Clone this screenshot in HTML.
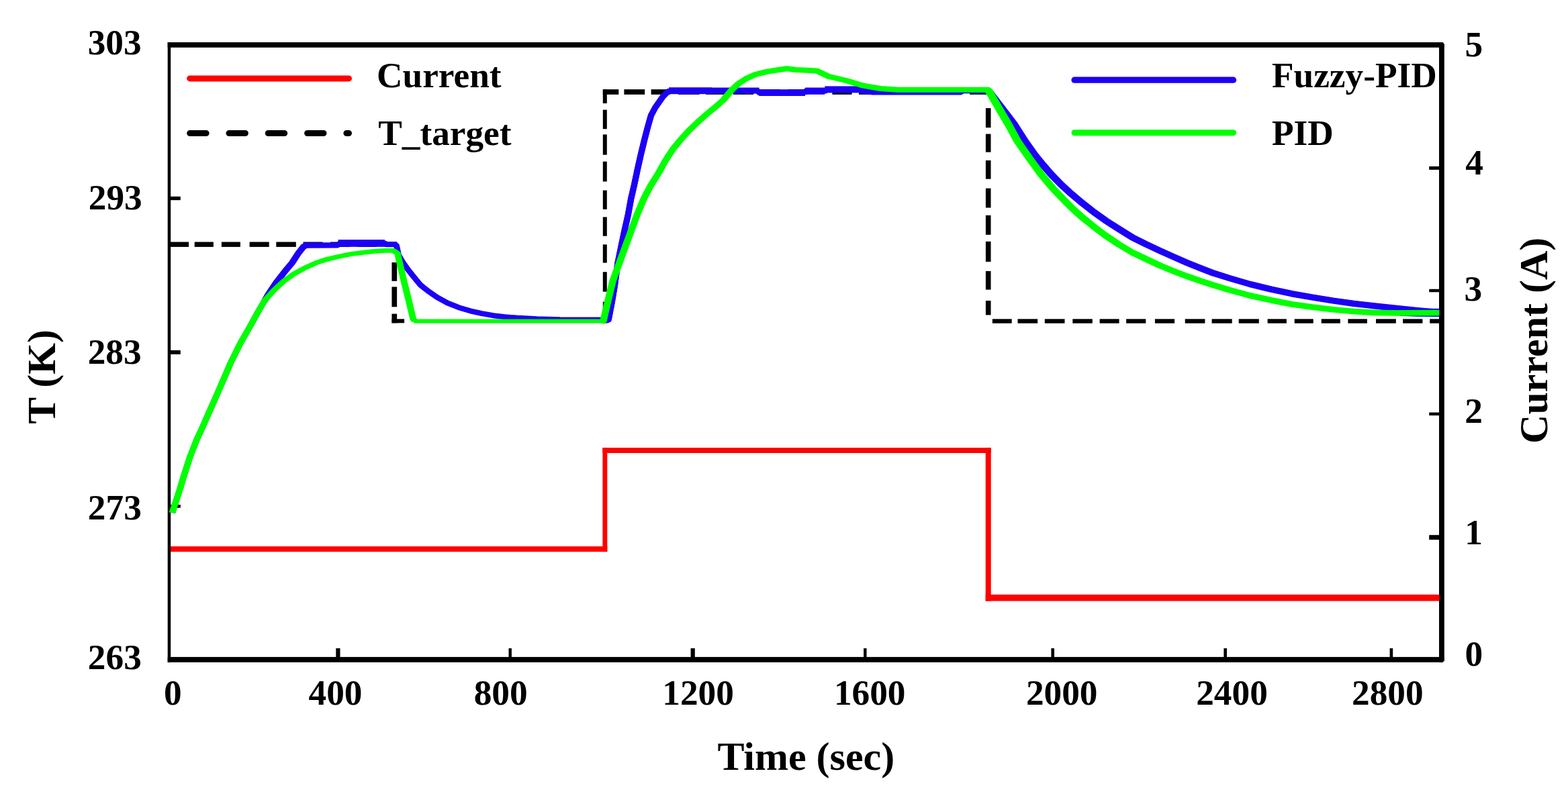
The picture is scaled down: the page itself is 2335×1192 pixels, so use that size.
<!DOCTYPE html>
<html lang="en">
<head>
<meta charset="utf-8">
<title>Fuzzy-PID vs PID temperature control</title>
<style>
  html, body { margin: 0; padding: 0; background: #ffffff; }
  body { width: 2335px; height: 1192px; overflow: hidden; }
  svg { display: block; }
  text { font-family: "Liberation Serif", "Times New Roman", Times, serif; font-weight: bold; }
</style>
</head>
<body>
<svg width="2335" height="1192" viewBox="0 0 2335 1192" role="img" aria-label="Temperature response of Fuzzy-PID and PID control with drive current">
<rect x="0" y="0" width="2335" height="1192" fill="#ffffff"/>
<g id="axes"><rect x="249.70" y="63.00" width="4.50" height="923.80" fill="#000"/><rect x="249.70" y="63.00" width="1899.10" height="7.80" fill="#000"/><rect x="249.70" y="978.90" width="1899.10" height="7.90" fill="#000"/><rect x="2143.00" y="65.90" width="7.80" height="918.60" fill="#000"/><polygon points="2143,63 2148.8,63 2150.8,65.9 2150.8,70.8 2143,70.8" fill="#000"/><polygon points="2143,978.9 2150.8,978.9 2150.8,984.3 2148.6,986.8 2143,986.8" fill="#000"/><rect x="254.00" y="292.80" width="14.80" height="5.40" fill="#000"/><rect x="254.00" y="521.90" width="14.80" height="6.00" fill="#000"/><rect x="254.00" y="752.00" width="14.80" height="4.60" fill="#000"/><rect x="2128.20" y="247.90" width="15.00" height="5.00" fill="#000"/><rect x="2128.20" y="430.75" width="15.00" height="4.50" fill="#000"/><rect x="2128.20" y="614.55" width="15.00" height="4.50" fill="#000"/><rect x="2128.20" y="797.20" width="15.00" height="7.00" fill="#000"/><rect x="500.30" y="965.90" width="6.20" height="13.30" fill="#000"/><rect x="757.50" y="965.90" width="4.40" height="13.30" fill="#000"/><rect x="1028.60" y="965.90" width="6.20" height="13.30" fill="#000"/><rect x="1286.10" y="965.90" width="4.40" height="13.30" fill="#000"/><rect x="1565.40" y="965.90" width="4.60" height="13.30" fill="#000"/><rect x="1822.40" y="965.90" width="4.60" height="13.30" fill="#000"/><rect x="2069.60" y="965.90" width="4.60" height="13.30" fill="#000"/></g>
<g id="ttarget"><rect x="254.00" y="360.50" width="27.10" height="7.40" fill="#000"/><rect x="289.70" y="360.50" width="28.20" height="7.40" fill="#000"/><rect x="329.90" y="360.50" width="28.00" height="7.40" fill="#000"/><rect x="371.60" y="360.50" width="29.10" height="7.40" fill="#000"/><rect x="411.30" y="360.50" width="29.50" height="7.40" fill="#000"/><rect x="451.60" y="360.50" width="28.90" height="7.40" fill="#000"/><rect x="492.00" y="360.50" width="28.80" height="7.40" fill="#000"/><rect x="532.40" y="360.50" width="28.80" height="7.40" fill="#000"/><rect x="572.80" y="360.50" width="18.40" height="7.40" fill="#000"/><rect x="583.45" y="391.00" width="7.70" height="27.80" fill="#000"/><rect x="583.45" y="427.40" width="7.70" height="29.90" fill="#000"/><rect x="583.45" y="467.60" width="7.70" height="13.70" fill="#000"/><rect x="583.50" y="475.30" width="18.60" height="6.00" fill="#000"/><rect x="897.80" y="449.60" width="6.00" height="31.70" fill="#000"/><rect x="897.80" y="405.20" width="6.00" height="29.40" fill="#000"/><rect x="897.80" y="364.30" width="6.00" height="27.30" fill="#000"/><rect x="897.80" y="323.40" width="6.00" height="28.30" fill="#000"/><rect x="897.80" y="283.60" width="6.00" height="28.30" fill="#000"/><rect x="897.80" y="240.70" width="6.00" height="29.80" fill="#000"/><rect x="897.80" y="200.40" width="6.00" height="30.30" fill="#000"/><rect x="897.80" y="163.60" width="6.00" height="28.60" fill="#000"/><rect x="897.80" y="133.10" width="6.00" height="20.90" fill="#000"/><rect x="897.80" y="133.15" width="23.50" height="7.70" fill="#000"/><rect x="929.40" y="133.15" width="30.80" height="7.70" fill="#000"/><rect x="969.60" y="133.15" width="28.40" height="7.70" fill="#000"/><rect x="1010.00" y="133.15" width="31.60" height="7.70" fill="#000"/><rect x="1051.00" y="133.15" width="28.30" height="7.70" fill="#000"/><rect x="1092.00" y="133.15" width="30.10" height="7.70" fill="#000"/><rect x="1132.50" y="133.15" width="29.50" height="7.70" fill="#000"/><rect x="1173.00" y="133.15" width="29.00" height="7.70" fill="#000"/><rect x="1239.40" y="133.15" width="29.10" height="7.70" fill="#000"/><rect x="1279.00" y="133.15" width="29.00" height="7.70" fill="#000"/><rect x="1319.50" y="133.15" width="29.00" height="7.70" fill="#000"/><rect x="1360.00" y="133.15" width="29.00" height="7.70" fill="#000"/><rect x="1400.50" y="133.15" width="30.50" height="7.70" fill="#000"/><rect x="1444.10" y="133.15" width="31.40" height="7.70" fill="#000"/><rect x="1467.90" y="161.10" width="7.60" height="29.10" fill="#000"/><rect x="1467.90" y="199.60" width="7.60" height="27.10" fill="#000"/><rect x="1467.90" y="239.00" width="7.60" height="27.70" fill="#000"/><rect x="1467.90" y="280.60" width="7.60" height="28.90" fill="#000"/><rect x="1467.90" y="320.80" width="7.60" height="29.00" fill="#000"/><rect x="1467.90" y="359.80" width="7.60" height="30.20" fill="#000"/><rect x="1467.90" y="403.90" width="7.60" height="27.70" fill="#000"/><rect x="1467.90" y="448.00" width="7.60" height="21.40" fill="#000"/><rect x="1477.80" y="475.30" width="28.90" height="6.40" fill="#000"/><rect x="1515.50" y="475.30" width="29.70" height="6.40" fill="#000"/><rect x="1555.80" y="475.30" width="29.70" height="6.40" fill="#000"/><rect x="1597.30" y="475.30" width="29.50" height="6.40" fill="#000"/><rect x="1637.60" y="475.30" width="29.00" height="6.40" fill="#000"/><rect x="1677.10" y="475.30" width="29.20" height="6.40" fill="#000"/><rect x="1719.90" y="475.30" width="29.20" height="6.40" fill="#000"/><rect x="1764.70" y="475.30" width="29.70" height="6.40" fill="#000"/><rect x="1804.60" y="475.30" width="30.10" height="6.40" fill="#000"/><rect x="1844.70" y="475.30" width="30.10" height="6.40" fill="#000"/><rect x="1887.60" y="475.30" width="28.30" height="6.40" fill="#000"/><rect x="1927.70" y="475.30" width="28.00" height="6.40" fill="#000"/><rect x="1967.70" y="475.30" width="28.10" height="6.40" fill="#000"/><rect x="2007.40" y="475.30" width="28.50" height="6.40" fill="#000"/><rect x="2049.00" y="475.30" width="29.80" height="6.40" fill="#000"/><rect x="2089.10" y="475.30" width="29.30" height="6.40" fill="#000"/><rect x="2129.20" y="475.30" width="14.30" height="6.40" fill="#000"/></g>
<g id="fuzzy-pid"><g transform="scale(1.1250 1)"><polyline points="228.00,764.0 230.31,755.9 237.60,730.7 244.36,705.5 251.64,680.3 260.36,655.2 266.67,640.0 276.27,615.5 285.78,591.4 295.82,565.5 305.60,540.0 318.22,511.3 331.38,485.6 341.33,465.0 350.76,447.1 355.56,438.0 365.60,421.0 377.78,403.5 386.76,391.4 395.20,376.8 401.78,367.5 405.33,365.5 447.64,365.0 449.78,362.5 509.33,362.5 511.11,364.2 523.11,364.2 524.89,366.0 527.56,380.0 533.33,391.0 539.56,401.0 546.22,410.5 556.44,424.5 566.31,433.4 578.49,442.8 592.18,451.3 607.38,458.2 622.67,463.3 637.87,467.1 653.07,470.2 668.36,472.2 683.56,473.6 710.93,475.3 741.42,476.2 794.67,476.4 803.11,477.5 805.42,476.5 810.13,449.2 813.87,424.1 817.60,392.6 822.22,367.4 826.93,342.3 831.56,319.2 835.29,296.1 839.64,275.0 844.09,251.3 848.18,230.7 852.62,210.2 857.24,190.0 861.78,172.0 867.29,160.4 877.33,144.1 884.00,136.5 887.11,135.4 1002.67,135.4 1005.33,138.4 1063.11,138.4 1066.67,135.6 1092.44,135.6 1095.11,133.7 1136.89,133.7 1140.44,135.5 1155.56,137.5 1271.11,137.5 1274.67,135.3 1306.67,135.3 1308.44,135.3 1325.33,160.0 1342.67,185.5 1356.89,210.7 1369.51,230.5 1380.71,246.0 1391.91,260.5 1405.33,275.8 1418.76,289.6 1432.18,302.2 1447.82,316.0 1463.47,328.6 1481.42,341.5 1499.29,354.0 1517.16,364.0 1535.11,373.5 1552.98,382.5 1570.84,391.3 1588.80,399.5 1606.67,407.2 1627.38,414.5 1654.84,423.5 1682.22,431.0 1709.60,437.6 1737.07,443.0 1764.44,448.0 1791.82,452.3 1819.29,455.8 1846.67,459.2 1874.13,462.3 1905.07,465.5" fill="none" stroke="#1c00f5" stroke-width="8.0" stroke-linejoin="round" stroke-linecap="butt"/></g><g transform="scale(1.1765 1)"><polyline points="335.41,447.1 340.00,438.0 349.61,421.0 361.25,403.5 369.83,391.4 377.91,376.8 384.20,367.5 387.60,365.5" fill="none" stroke="#1c00f5" stroke-width="8.5" stroke-linejoin="round" stroke-linecap="round"/></g><g transform="scale(1.1750 1)"><polyline points="771.15,476.5 775.66,449.2 779.23,424.1 782.81,392.6 787.23,367.4 791.74,342.3 796.17,319.2 799.74,296.1 803.91,275.0 808.17,251.3 812.09,230.7 816.34,210.2 820.77,190.0 825.11,172.0 830.38,160.4 840.00,144.1 846.38,136.5 849.36,135.4" fill="none" stroke="#1c00f5" stroke-width="8.0" stroke-linejoin="round" stroke-linecap="round"/></g><g transform="scale(1.2366 1)"><polyline points="1190.40,135.3 1205.77,160.0 1221.53,185.5 1234.47,210.7 1245.96,230.5 1256.15,246.0 1266.34,260.5 1278.55,275.8 1290.76,289.6 1302.97,302.2 1317.20,316.0 1331.44,328.6 1347.77,341.5 1364.03,354.0 1380.28,364.0 1396.62,373.5 1412.87,382.5 1429.13,391.3 1445.46,399.5 1461.72,407.2 1480.56,414.5 1505.55,423.5 1530.46,431.0 1555.36,437.6 1580.35,443.0 1605.26,448.0 1630.17,452.3 1655.16,455.8 1680.07,459.2 1705.05,462.3 1733.20,465.5" fill="none" stroke="#1c00f5" stroke-width="9.3" stroke-linejoin="round" stroke-linecap="butt"/></g><g transform="scale(1.0000 1)"><polyline points="2085.00,464.6 2110.00,465.6 2143.20,465.8" fill="none" stroke="#1c00f5" stroke-width="12.2" stroke-linejoin="round" stroke-linecap="butt"/></g><rect x="452.00" y="362.40" width="51.60" height="7.10" fill="#1c00f5"/><rect x="503.60" y="357.10" width="69.40" height="10.70" fill="#1c00f5"/><rect x="573.00" y="360.60" width="18.00" height="7.20" fill="#1c00f5"/><rect x="996.00" y="130.20" width="64.00" height="10.00" fill="#1c00f5"/><rect x="1060.00" y="130.50" width="70.50" height="8.70" fill="#1c00f5"/><rect x="1130.50" y="133.20" width="68.60" height="9.80" fill="#1c00f5"/><rect x="1199.10" y="130.50" width="29.10" height="10.30" fill="#1c00f5"/><rect x="1228.20" y="128.40" width="51.80" height="9.90" fill="#1c00f5"/><rect x="1280.00" y="131.00" width="20.00" height="8.50" fill="#1c00f5"/><rect x="1300.00" y="133.00" width="132.00" height="7.80" fill="#1c00f5"/><rect x="1432.00" y="131.50" width="38.00" height="6.80" fill="#1c00f5"/></g>
<g id="pid"><g transform="scale(1.4412 1)"><polyline points="177.98,764.0 179.78,755.9 185.47,730.7 190.75,705.5 196.44,680.3 203.24,655.2 208.16,640.0 215.66,615.5 223.08,591.4 230.92,565.5 238.56,540.0 248.41,511.3 258.68,485.6 266.45,465.0 273.80,447.1 283.03,432.5 292.54,419.7 303.22,408.5 315.09,399.1 327.02,391.4 338.89,385.9 350.76,382.0 362.69,378.5 374.56,376.3 386.42,374.3 398.29,373.4 406.61,373.4 410.78,377.7 413.76,396.5 417.37,418.8 422.09,446.2 426.87,475.3 428.82,478.4" fill="none" stroke="#00ff00" stroke-width="6.8" stroke-linejoin="round" stroke-linecap="butt"/></g><g transform="scale(1.0000 1)"><polyline points="616.00,478.4 899.00,478.4" fill="none" stroke="#00ff00" stroke-width="6.0" stroke-linejoin="round" stroke-linecap="butt"/></g><g transform="scale(1.3000 1)"><polyline points="691.15,478.4 696.23,449.2 702.15,417.8 709.23,392.6 716.31,367.4 723.46,342.3 730.00,319.2 737.54,296.1 745.08,277.3 755.00,256.4 761.69,240.5 770.92,222.0 780.15,207.5 789.38,194.3 799.92,181.2 810.46,169.0 819.69,159.3 828.92,148.5 838.15,134.0 846.00,124.5 855.23,116.8 865.77,110.8 879.00,106.6 892.15,104.0 901.38,102.3 911.92,104.0 925.08,104.8 935.62,105.5 949.46,114.0 969.23,120.0 989.00,127.7 1008.69,132.0 1028.46,133.7 1131.92,133.7" fill="none" stroke="#00ff00" stroke-width="8.0" stroke-linejoin="round" stroke-linecap="round"/></g><g transform="scale(1.3793 1)"><polyline points="1066.84,133.7 1077.71,159.5 1088.73,185.5 1098.74,210.7 1111.50,235.9 1124.11,260.0 1136.07,279.6 1146.59,295.0 1157.17,309.8 1168.12,323.5 1180.88,337.7 1193.64,351.0 1208.28,364.5 1222.86,376.5 1237.43,386.0 1252.07,395.5 1266.65,403.8 1281.22,411.5 1295.87,418.5 1310.44,425.0 1327.33,432.0 1349.73,440.5 1372.06,447.2 1394.39,453.2 1416.79,457.5 1439.12,461.2 1461.45,464.0 1483.86,465.8 1506.19,466.3 1553.82,466.2" fill="none" stroke="#00ff00" stroke-width="8.7" stroke-linejoin="round" stroke-linecap="butt"/></g></g>
<g id="current"><rect x="254.00" y="814.10" width="650.30" height="8.00" fill="#ff0000"/><rect x="897.40" y="667.20" width="6.90" height="154.90" fill="#ff0000"/><rect x="897.40" y="667.20" width="578.30" height="7.80" fill="#ff0000"/><rect x="1467.70" y="667.20" width="8.00" height="228.30" fill="#ff0000"/><rect x="1467.70" y="885.90" width="675.80" height="9.60" fill="#ff0000"/></g>
<g id="legend" fill="none" stroke-linecap="round"><line x1="282.7" y1="116.9" x2="519.5" y2="116.9" stroke="#ff0000" stroke-width="9"/><line x1="282.7" y1="198.5" x2="519.5" y2="198.5" stroke="#000" stroke-width="9" stroke-dasharray="24.4 33.9"/><line x1="1600" y1="119.2" x2="1836.6" y2="119.2" stroke="#1c00f5" stroke-width="9.2"/><line x1="1600" y1="197.8" x2="1836.6" y2="197.8" stroke="#00ff00" stroke-width="9"/></g>
<g id="labels" font-family='"Liberation Serif", "Times New Roman", Times, serif' font-weight="bold" fill="#000"><text x="210.6" y="81.3" font-size="53.3" text-anchor="end">303</text><text x="211.7" y="312.0" font-size="53.3" text-anchor="end">293</text><text x="210.6" y="541.8" font-size="53.3" text-anchor="end">283</text><text x="210.8" y="774.0" font-size="53.3" text-anchor="end">273</text><text x="210.8" y="997.2" font-size="53.3" text-anchor="end">263</text><text x="2181.6" y="84.3" font-size="53.3" text-anchor="start">5</text><text x="2182.3" y="260.0" font-size="53.3" text-anchor="start">4</text><text x="2180.6" y="447.7" font-size="53.3" text-anchor="start">3</text><text x="2181.2" y="630.4" font-size="53.3" text-anchor="start">2</text><text x="2181.2" y="810.8" font-size="53.3" text-anchor="start">1</text><text x="2181.6" y="992.3" font-size="53.3" text-anchor="start">0</text><text x="257.3" y="1050.2" font-size="53.3" text-anchor="middle">0</text><text x="499.5" y="1050.2" font-size="53.3" text-anchor="middle">400</text><text x="745.7" y="1050.2" font-size="53.3" text-anchor="middle">800</text><text x="1039.6" y="1050.2" font-size="53.3" text-anchor="middle">1200</text><text x="1295.2" y="1050.2" font-size="53.3" text-anchor="middle">1600</text><text x="1581.2" y="1050.2" font-size="53.3" text-anchor="middle">2000</text><text x="1834.5" y="1050.2" font-size="53.3" text-anchor="middle">2400</text><text x="2066.3" y="1050.2" font-size="53.3" text-anchor="middle">2800</text><text x="561.0" y="130.0" font-size="53.3" text-anchor="start">Current</text><text x="563.2" y="216.0" font-size="53.3" text-anchor="start">T_target</text><text x="1894.0" y="129.7" font-size="53.3" text-anchor="start">Fuzzy-PID</text><text x="1894.0" y="215.5" font-size="53.3" text-anchor="start">PID</text><text x="1200.3" y="1146.9" font-size="60.0" text-anchor="middle">Time (sec)</text><text transform="translate(81.8 561.4) rotate(-90)" font-size="60.0" text-anchor="middle">T (K)</text><text transform="translate(2303.5 507.3) rotate(-90)" font-size="60.0" text-anchor="middle">Current (A)</text></g>
</svg>
</body>
</html>
